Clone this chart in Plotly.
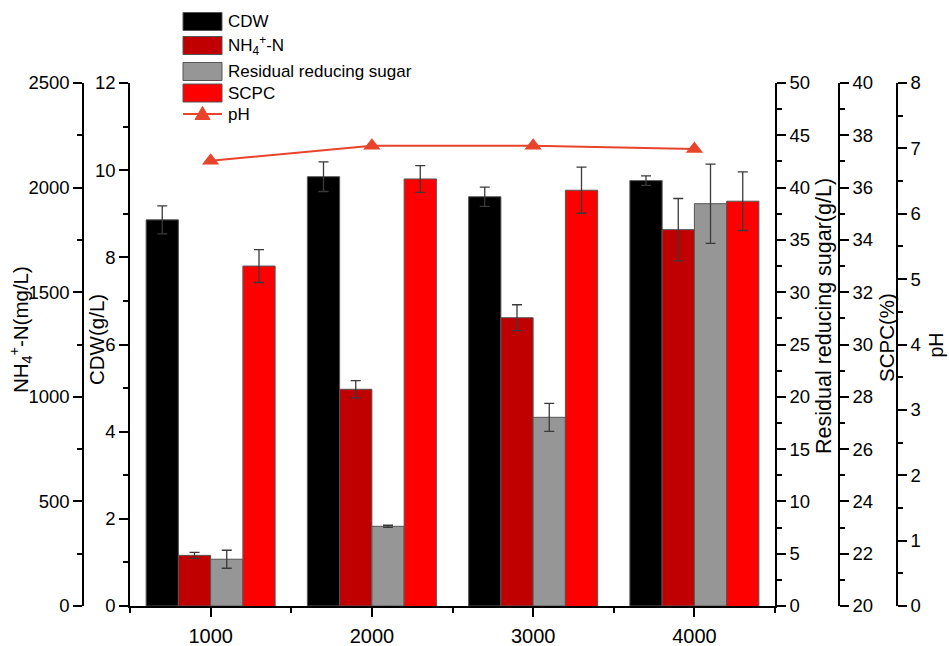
import plotly.graph_objects as go

# ---------------- data ----------------
categories = [1000, 2000, 3000, 4000]

cdw = [8.86, 9.85, 9.39, 9.76]
cdw_err = [0.32, 0.34, 0.22, 0.11]

nh4 = [242, 1036, 1378, 1799]
nh4_err = [14, 41, 62, 149]

sugar = [4.47, 7.62, 18.04, 38.46]
sugar_err = [0.86, 0.10, 1.34, 3.79]

scpc = [33.0, 36.33, 35.90, 35.48]
scpc_err = [0.63, 0.51, 0.88, 1.12]

ph = [6.81, 7.04, 7.04, 6.99]

series_names = ["CDW", "NH<sub>4</sub><sup>+</sup>-N", "Residual reducing sugar", "SCPC", "pH"]

# ---------------- styling ----------------
W, H = 949, 646
FONT = "Arial, 'Liberation Sans', Helvetica, sans-serif"
C_CDW = "#000000"
C_NH4 = "#C00000"
C_SUG = "#969696"
C_SCPC = "#FF0000"
C_PH = "#E8432B"
EDGE = "#555555"
ERRC = "#3a3a3a"


def px(x):
    return x / W


def py(y):
    return 1 - y / H


BAR_W = 200
fig = go.Figure()

bar_specs = [
    (cdw, cdw_err, "y", C_CDW, -400),
    (nh4, nh4_err, "y2", C_NH4, -200),
    (sugar, sugar_err, "y3", C_SUG, 0),
    (scpc, scpc_err, "y4", C_SCPC, 200),
]
for vals, errs, ax, col, off in bar_specs:
    fig.add_trace(go.Bar(
        x=categories, y=vals, yaxis=ax, width=BAR_W, offset=off,
        marker=dict(color=col, line=dict(color=EDGE, width=1)),
        error_y=dict(type="data", array=errs, visible=True, color=ERRC,
                     thickness=1.3, width=5),
        showlegend=False,
    ))

fig.add_trace(go.Scatter(
    x=categories, y=ph, yaxis="y5", mode="lines+markers",
    line=dict(color=C_PH, width=2),
    marker=dict(symbol="triangle-up", size=15, color=C_PH),
    showlegend=False,
))

tickfont_y = dict(family=FONT, size=18.5, color="black")
common_y = dict(
    showgrid=False, zeroline=False, showline=True, linecolor="black",
    linewidth=1.5, ticks="outside", ticklen=9, tickwidth=1.5,
    tickcolor="black", tickfont=tickfont_y, automargin=False,
)


def minor(d):
    return dict(dtick=d, ticks="outside", ticklen=5, tickwidth=1.5,
                tickcolor="black", showgrid=False)


dom_y = [py(606), py(83)]

fig.update_layout(
    width=W, height=H, autosize=False,
    margin=dict(l=0, r=0, t=0, b=0, autoexpand=False),
    paper_bgcolor="white", plot_bgcolor="white",
    barmode="overlay",
    font=dict(family=FONT, color="black"),
    xaxis=dict(
        domain=[px(130), px(775)], range=[500, 4500], automargin=False,
        tick0=0, dtick=1000, showgrid=False, zeroline=False,
        showline=True, linecolor="black", linewidth=1.5,
        ticks="outside", ticklen=9, tickwidth=1.5, tickcolor="black",
        ticklabelstandoff=2,
        minor=minor(500),
        tickfont=dict(family=FONT, size=20, color="black"),
    ),
    yaxis=dict(domain=dom_y, range=[0, 12], dtick=2, anchor="x", side="left",
               minor=minor(1), **common_y),
    yaxis2=dict(overlaying="y", anchor="free", position=px(83), side="left",
                range=[0, 2500], dtick=500, minor=minor(250), **common_y),
    yaxis3=dict(overlaying="y", anchor="x", side="right",
                range=[0, 50], dtick=5, minor=minor(2.5), **common_y),
    yaxis4=dict(overlaying="y", anchor="free", position=px(839), side="right",
                range=[20, 40], dtick=2, minor=minor(1), **common_y),
    yaxis5=dict(overlaying="y", anchor="free", position=px(897), side="right",
                range=[0, 8], dtick=1, minor=minor(0.5), **common_y),
)

# ---------------- axis titles ----------------
titles = [
    ("NH<sub>4</sub><sup>+</sup>-N(mg/L)", 20, 330, 20.5),
    ("CDW(g/L)", 96, 340, 20.5),
    ("Residual reducing sugar(g/L)", 824, 316, 21.5),
    ("SCPC(%)", 886, 338, 20.5),
    ("pH", 935.5, 345, 19.5),
]
for txt, x, y, fs in titles:
    fig.add_annotation(
        text=txt, x=px(x), y=py(y), xref="paper", yref="paper",
        textangle=-90, showarrow=False, xanchor="center", yanchor="middle",
        borderpad=0,
        font=dict(family=FONT, size=fs, color="black"),
    )

# ---------------- legend (drawn) ----------------
leg_x0, leg_x1 = 183, 222
rows = [(12.5, 30.5), (36.5, 54.5), (62.5, 80.5), (84, 102)]
cols = [C_CDW, C_NH4, C_SUG, C_SCPC]
shapes = []
for (y0, y1), col, name in zip(rows, cols, series_names[:4]):
    shapes.append(dict(type="rect", xref="paper", yref="paper",
                       x0=px(leg_x0), x1=px(leg_x1), y0=py(y1), y1=py(y0),
                       fillcolor=col, line=dict(color=EDGE, width=1)))
    fig.add_annotation(text=name, x=px(226), y=py((y0 + y1) / 2),
                       xref="paper", yref="paper", showarrow=False,
                       xanchor="left", yanchor="middle",
                       font=dict(family=FONT, size=17, color="black"))

ph_y = 114
shapes.append(dict(type="line", xref="paper", yref="paper",
                   x0=px(leg_x0), x1=px(leg_x1), y0=py(ph_y), y1=py(ph_y),
                   line=dict(color=C_PH, width=2)))
cx = (leg_x0 + leg_x1) / 2
tri = "M {},{} L {},{} L {},{} Z".format(
    px(cx - 7.5), py(ph_y + 5.5), px(cx + 7.5), py(ph_y + 5.5),
    px(cx), py(ph_y - 7.5))
shapes.append(dict(type="path", xref="paper", yref="paper", path=tri,
                   fillcolor=C_PH, line=dict(color=C_PH, width=1)))
fig.add_annotation(text=series_names[4], x=px(226), y=py(ph_y),
                   xref="paper", yref="paper", showarrow=False,
                   xanchor="left", yanchor="middle",
                   font=dict(family=FONT, size=17, color="black"))
fig.update_layout(shapes=shapes)

fig.write_html(
    "out.html",
    config={"displayModeBar": False},
    post_script="document.body.style.margin='0';document.body.style.overflow='hidden';",
)
